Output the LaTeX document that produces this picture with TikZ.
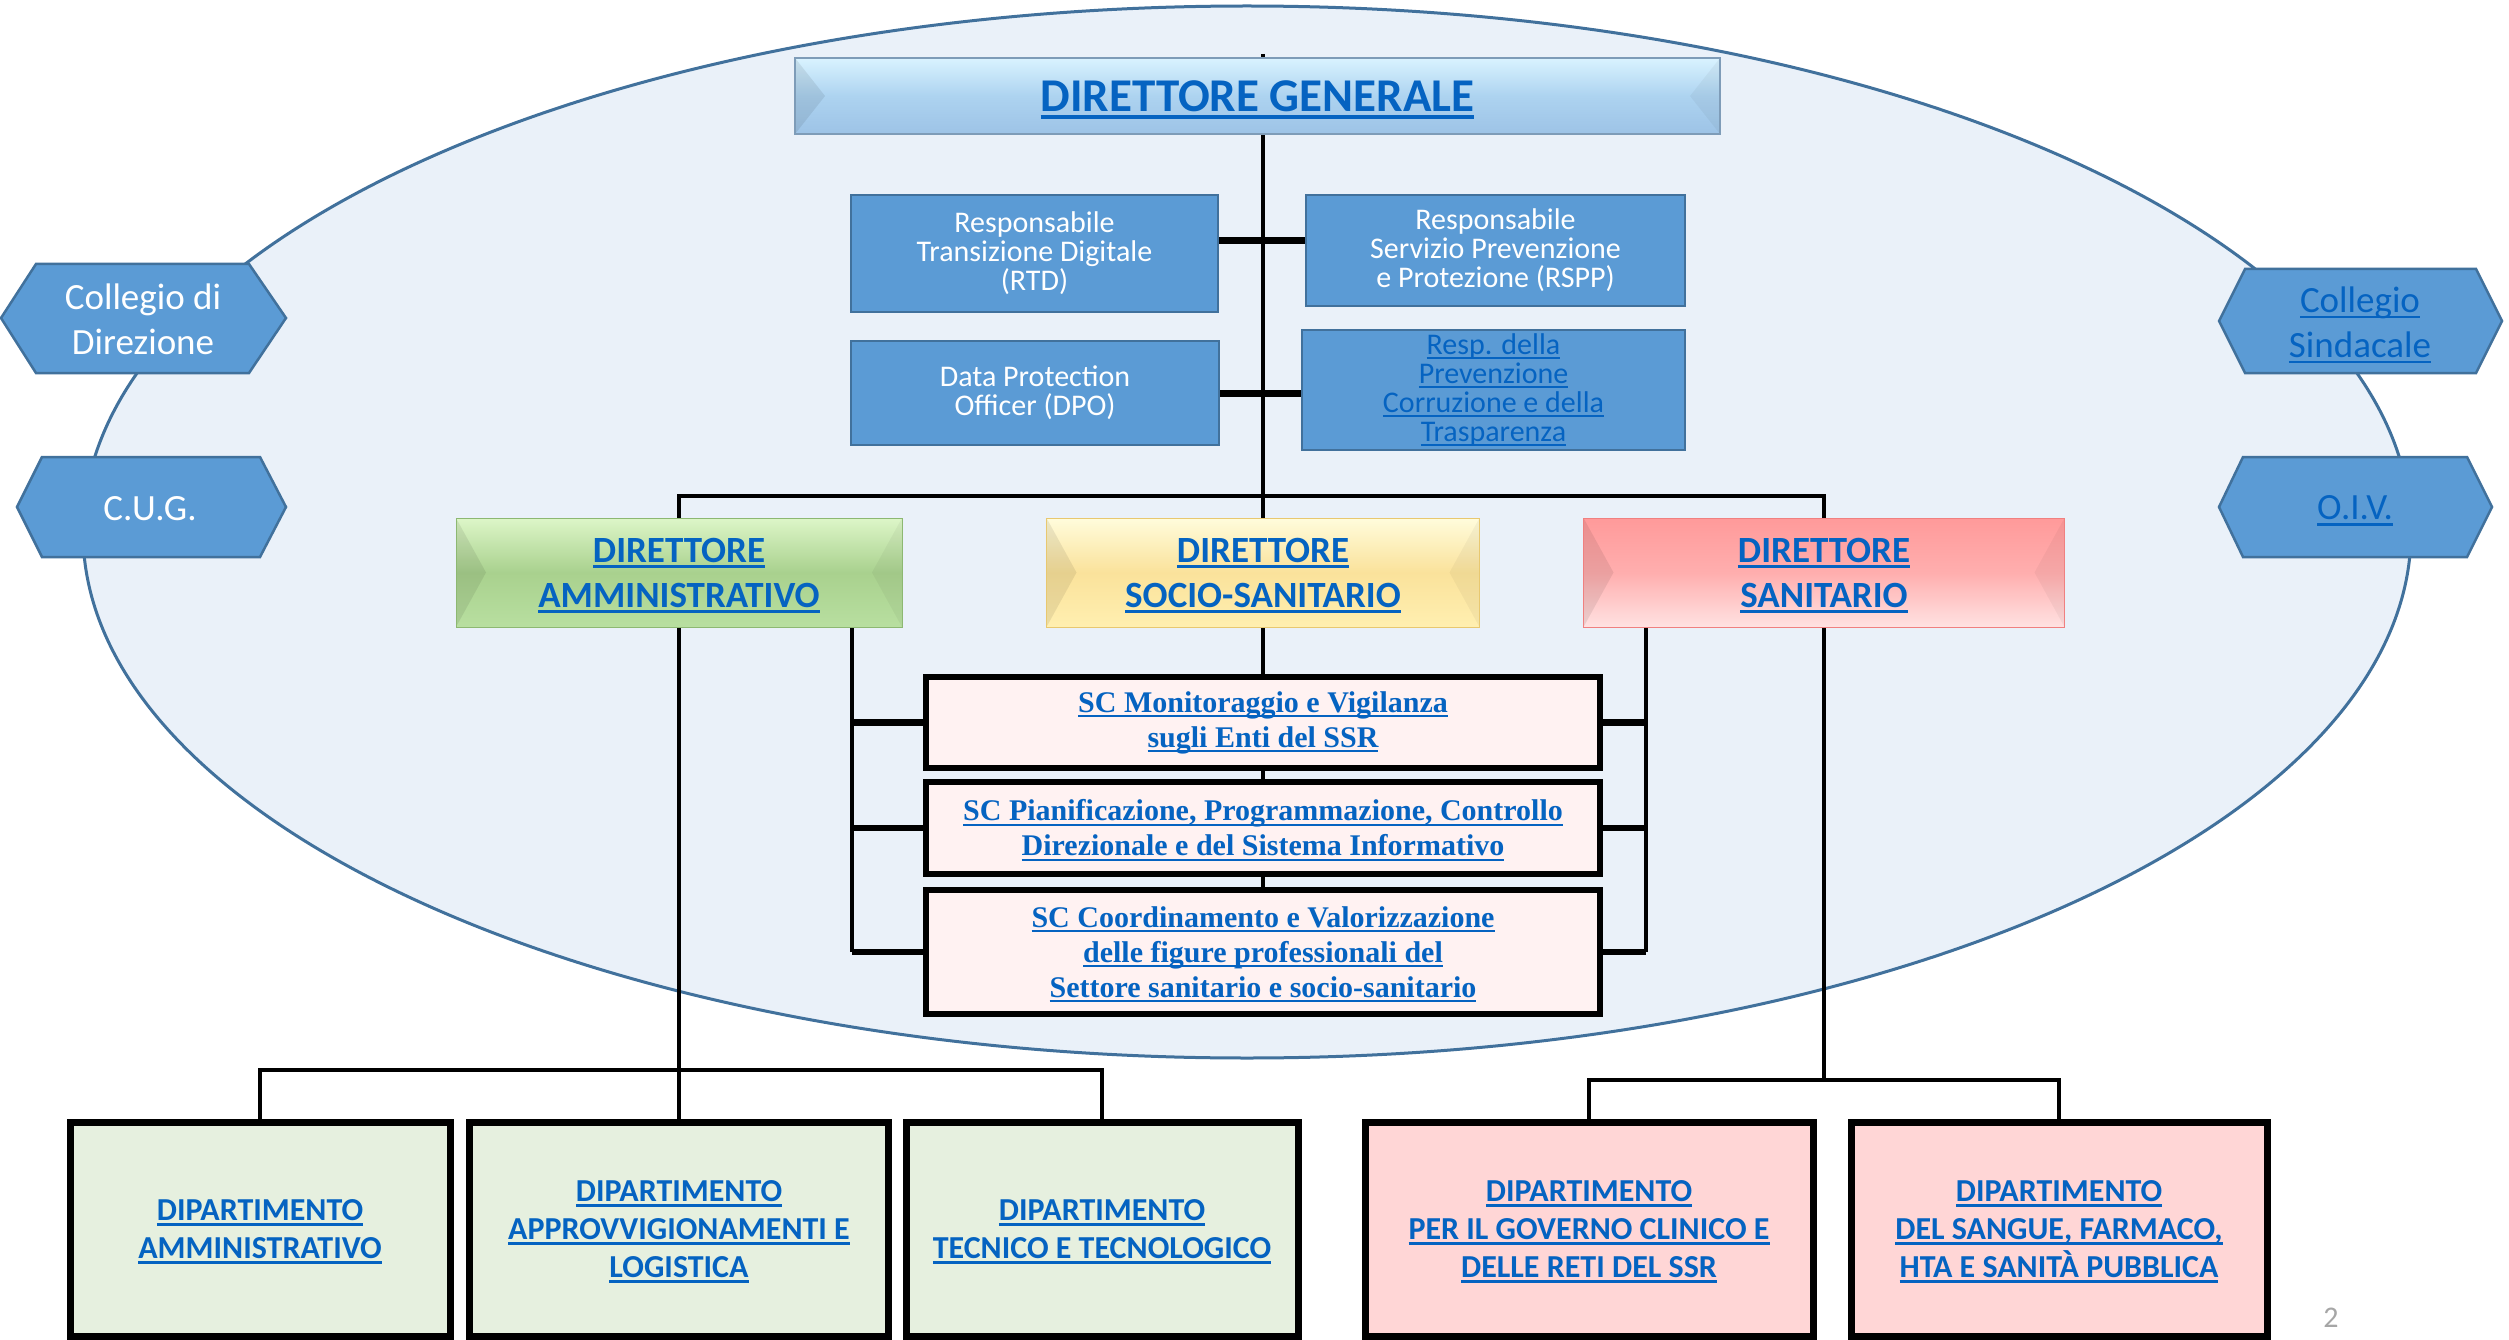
\documentclass[tikz,border=0pt]{standalone}
\usepackage{fontspec}
\setmainfont{Carlito}
\newfontfamily\scfont{Liberation Serif}
\usetikzlibrary{calc}
\definecolor{ellfill}{HTML}{EAF1F9}
\definecolor{ellline}{HTML}{41719C}
\definecolor{boxblue}{HTML}{5B9BD5}
\definecolor{boxline}{HTML}{41719C}
\definecolor{linkblue}{HTML}{0563C1}
\definecolor{scfill}{HTML}{FFF2F2}
\definecolor{greenfill}{HTML}{E6F0DF}
\definecolor{pinkfill}{HTML}{FFD6D6}
\definecolor{dgtop}{HTML}{D9F3FF}
\definecolor{dgmid}{HTML}{ADD3F0}
\definecolor{dgbot}{HTML}{9DC3E6}
\definecolor{datop}{HTML}{DDF6C8}
\definecolor{damid}{HTML}{A9D18E}
\definecolor{dabot}{HTML}{B8DFA0}
\definecolor{dadraw}{HTML}{8DB872}
\definecolor{dsstop}{HTML}{FFFCDC}
\definecolor{dssmid}{HTML}{FAE29B}
\definecolor{dssbot}{HTML}{FFEFB0}
\definecolor{dssdraw}{HTML}{E8C870}
\definecolor{dstop}{HTML}{FF9A9A}
\definecolor{dsmid}{HTML}{FFAEAE}
\definecolor{dsbot}{HTML}{FFE2E2}
\definecolor{dsdraw}{HTML}{F08080}
\newcommand\ulk[1]{\leavevmode\setbox0\hbox{#1}\rlap{\smash{\rule[-0.16em]{\wd0}{0.07em}}}\box0}
\pgfdeclarelayer{back}
\pgfdeclarelayer{lines}
\pgfsetlayers{back,lines,main}
\tikzset{
  bevel/.style={path picture={
    \fill[black,opacity=0.08] (path picture bounding box.north west) -- ([xshift=30pt]path picture bounding box.west) -- (path picture bounding box.south west) -- cycle;
    \fill[black,opacity=0.04] (path picture bounding box.north east) -- ([xshift=-30pt]path picture bounding box.east) -- (path picture bounding box.south east) -- cycle;
  }},
  smallbox/.style={draw=boxline, line width=2pt, fill=boxblue, text=white, align=center,
    font=\fontsize{30}{29}\selectfont, inner sep=0pt},
  dirbox/.style={align=center, text=linkblue, inner sep=0pt, bevel,
    font=\bfseries\fontsize{37}{45}\selectfont},
  scbox/.style={draw=black, line width=6pt, fill=scfill, align=center, text=linkblue,
    font=\scfont\bfseries\fontsize{30}{35}\selectfont, inner sep=0pt},
  dept/.style={draw=black, line width=7pt, align=center, text=linkblue, inner sep=0pt,
    font=\bfseries\fontsize{32}{38}\selectfont},
  hex/.style={fill=boxblue, draw=boxline, line width=2.5pt, line join=miter},
  hextext/.style={align=center, font=\fontsize{37}{45}\selectfont, inner sep=0pt},
  conn/.style={line width=4pt, draw=black},
  branch/.style={line width=6.5pt, draw=black},
  stub/.style={line width=7pt, draw=black},
}
\begin{document}
\begin{tikzpicture}[x=1pt,y=-1pt]
\useasboundingbox (0,0) rectangle (2509,1340);
\begin{pgfonlayer}{back}
  \fill[white] (0,0) rectangle (2509,1340);
  \filldraw[fill=ellfill, draw=ellline, line width=3pt] (1247,532) ellipse [x radius=1164pt, y radius=526pt];
\end{pgfonlayer}

% Direttore generale
\node[inner sep=0pt, minimum width=925pt, minimum height=76pt, draw=dgbot!80!black, line width=1.5pt,
  top color=dgtop, bottom color=dgbot, middle color=dgmid, bevel,
  text=linkblue, font=\bfseries\fontsize{47}{50}\selectfont] (DG) at (1257.5,96) {\ulk{DIRETTORE GENERALE}};
\coordinate (top) at (1263,54);

% staff boxes
\node[smallbox, minimum width=367pt, minimum height=117pt] (RTD) at (1034.5,253.5) {Responsabile\\Transizione Digitale\\(RTD)};
\node[smallbox, minimum width=379pt, minimum height=111pt] (RSPP) at (1495.5,250.5) {Responsabile\\Servizio Prevenzione\\e Protezione (RSPP)};
\node[smallbox, minimum width=368pt, minimum height=104pt] (DPO) at (1035,393) {Data Protection\\Officer (DPO)};
\node[smallbox, minimum width=383pt, minimum height=120pt, text=linkblue] (RPCT) at (1493.5,390) {\ulk{Resp. della}\\\ulk{Prevenzione}\\\ulk{Corruzione e della}\\\ulk{Trasparenza}};

% hexagons
\filldraw[hex] (1,318) -- (36,264) -- (249,264) -- (286,318) -- (249,373) -- (36,373) -- cycle;
\node[hextext, text=white] (CDD) at (143,319) {Collegio di\\Direzione};
\filldraw[hex] (17,507) -- (42,457) -- (260,457) -- (286,507) -- (260,557) -- (42,557) -- cycle;
\node[hextext, text=white] (CUG) at (150,509) {C.U.G.};
\filldraw[hex] (2219,321) -- (2245,269) -- (2476,269) -- (2502,321) -- (2476,373) -- (2245,373) -- cycle;
\node[hextext, text=linkblue] (CS) at (2360,322) {\ulk{Collegio}\\\ulk{Sindacale}};
\filldraw[hex] (2219,507) -- (2243,457) -- (2467,457) -- (2492,507) -- (2467,557) -- (2243,557) -- cycle;
\node[hextext, text=linkblue] (OIV) at (2355,508) {\ulk{O.I.V.}};

% directors
\node[dirbox, minimum width=446pt, minimum height=109pt, top color=datop, bottom color=dabot, middle color=damid, draw=dadraw, line width=1pt] (DA) at (679,572.5) {\ulk{DIRETTORE}\\\ulk{AMMINISTRATIVO}};
\node[dirbox, minimum width=433pt, minimum height=109pt, top color=dsstop, bottom color=dssbot, middle color=dssmid, draw=dssdraw, line width=1pt] (DSS) at (1263,572.5) {\ulk{DIRETTORE}\\\ulk{SOCIO-SANITARIO}};
\node[dirbox, minimum width=481pt, minimum height=109pt, top color=dstop, bottom color=dsbot, middle color=dsmid, draw=dsdraw, line width=1pt] (DS) at (1824,572.5) {\ulk{DIRETTORE}\\\ulk{SANITARIO}};
\coordinate (bar) at (1263,496);

% SC boxes
\node[scbox, minimum width=674pt, minimum height=91pt] (SC1) at (1263,722.5) {\ulk{SC Monitoraggio e Vigilanza}\\\ulk{sugli Enti del SSR}};
\node[scbox, minimum width=674pt, minimum height=92pt] (SC2) at (1263,828) {\ulk{SC Pianificazione, Programmazione, Controllo}\\\ulk{Direzionale e del Sistema Informativo}};
\node[scbox, minimum width=674pt, minimum height=124pt] (SC3) at (1263,952) {\ulk{SC Coordinamento e Valorizzazione}\\\ulk{delle figure professionali del}\\\ulk{Settore sanitario e socio-sanitario}};

% departments
\node[dept, fill=greenfill, minimum width=380pt, minimum height=214pt] (DAmm) at (260,1229) {\ulk{DIPARTIMENTO}\\\ulk{AMMINISTRATIVO}};
\node[dept, fill=greenfill, minimum width=419pt, minimum height=214pt] (DApp) at (679,1229) {\ulk{DIPARTIMENTO}\\\ulk{APPROVVIGIONAMENTI E}\\\ulk{LOGISTICA}};
\node[dept, fill=greenfill, minimum width=392pt, minimum height=214pt] (DTec) at (1102,1229) {\ulk{DIPARTIMENTO}\\\ulk{TECNICO E TECNOLOGICO}};
\node[dept, fill=pinkfill, minimum width=448pt, minimum height=214pt] (DGov) at (1589,1229) {\ulk{DIPARTIMENTO}\\\ulk{PER IL GOVERNO CLINICO E}\\\ulk{DELLE RETI DEL SSR}};
\node[dept, fill=pinkfill, minimum width=416pt, minimum height=214pt] (DSan) at (2059,1229) {\ulk{DIPARTIMENTO}\\\ulk{DEL SANGUE, FARMACO,}\\\ulk{HTA E SANITÀ PUBBLICA}};
\coordinate (gbar) at (679,1070);
\coordinate (rbar) at (1824,1080);
\coordinate (dal) at (852,627);
\coordinate (dsl) at (1646,627);

\node[text=black!35, font=\fontsize{30}{30}\selectfont, inner sep=0pt] (PG) at (2331,1318) {2};

\begin{pgfonlayer}{lines}
  \draw[conn] (top) -- (DSS.north);
  \draw[conn] (DA.north) -- (DA.north |- bar) -- (DS.north |- bar) -- (DS.north);
  \draw[stub] ([yshift=13pt]RTD.east) -- ([yshift=13pt]RTD.east -| RSPP.west);
  \draw[stub] (DPO.east) -- (DPO.east -| RPCT.west);
  % SC chain
  \draw[conn] (DSS.south) -- (SC1.north);
  \draw[conn] (SC1.south) -- (SC2.north);
  \draw[conn] (SC2.south) -- (SC3.north);
  \draw[conn] (dal) -- (dal |- SC3.west);
  \draw[branch] (SC1.west) -- (SC1.west -| dal);
  \draw[branch] (SC2.west) -- (SC2.west -| dal);
  \draw[branch] (SC3.west) -- (SC3.west -| dal);
  \draw[conn] (dsl) -- (dsl |- SC3.east);
  \draw[branch] (SC1.east) -- (SC1.east -| dsl);
  \draw[branch] (SC2.east) -- (SC2.east -| dsl);
  \draw[branch] (SC3.east) -- (SC3.east -| dsl);
  % departments
  \draw[conn] (DA.south) -- (DApp.north);
  \draw[conn] (DAmm.north) -- (DAmm.north |- gbar) -- (DTec.north |- gbar) -- (DTec.north);
  \draw[conn] (DS.south) -- (rbar);
  \draw[conn] (DGov.north) -- (DGov.north |- rbar) -- (DSan.north |- rbar) -- (DSan.north);
\end{pgfonlayer}
\end{tikzpicture}
\end{document}
